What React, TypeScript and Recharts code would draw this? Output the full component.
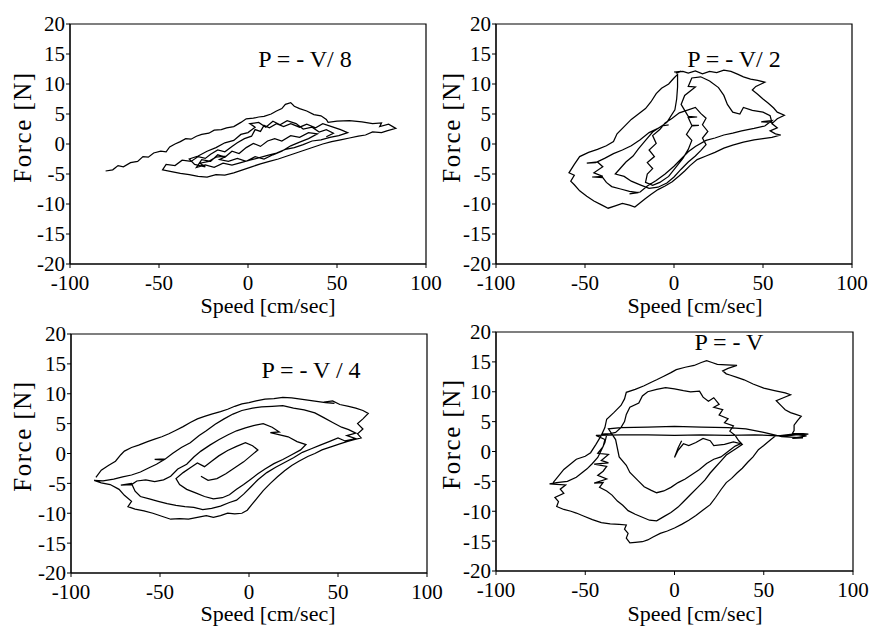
import React from "react";
import { LineChart, Line, XAxis, YAxis } from "recharts";

type Pt = [number, number];

const speedTicks = [-100, -50, 0, 50, 100];
const forceTicks = [-20, -15, -10, -5, 0, 5, 10, 15, 20];

// P = -V/8 : speed [cm/sec], force [N]
const loopV8: Pt[] = [
  [-80, -4.5], [-76, -4.3], [-73, -3.6], [-70, -3.8], [-66, -3.1], [-62, -2.9], [-59, -2.1], [-56, -2.2], [-53, -1.5], [-49, -1.2], [-46, -1.3], [-44, -0.5], [-41, 0.0], [-38, 0.4], [-35, 0.9], [-32, 0.8], [-29, 1.3], [-26, 1.6], [-22, 1.8], [-19, 2.3], [-15, 2.4], [-12, 2.7], [-8, 2.9], [-4, 3.6], [-1, 4.2], [3, 4.3], [6, 4.5], [9, 4.6], [13, 5.0], [16, 5.5], [19, 5.9], [21, 6.6], [24, 6.9], [26, 6.3], [29, 5.9], [33, 5.5], [37, 4.9], [41, 4.7], [44, 4.1], [45, 3.6], [50, 3.8], [57, 3.9], [64, 3.7], [70, 3.4], [75, 3.5], [74, 2.9], [79, 3.3], [83, 2.6],
  [78, 2.2], [75, 1.9], [70, 2.0], [66, 1.5], [62, 1.3], [57, 1.0], [52, 0.7], [47, 0.4], [42, 0.0], [37, -0.5], [32, -1.0], [27, -1.5], [22, -2.0], [17, -2.5], [12, -2.9], [7, -3.3], [2, -3.8], [-3, -4.3], [-8, -4.8], [-13, -5.2], [-18, -5.1], [-23, -5.5], [-28, -5.4], [-33, -5.1], [-38, -4.9], [-43, -4.6], [-48, -4.3],
  [-46, -3.4], [-41, -3.6], [-37, -2.7], [-32, -2.9], [-28, -2.1], [-24, -2.4], [-21, -1.7], [-17, -1.0], [-13, -1.3], [-9, -0.4], [-6, 0.2], [-2, 0.9], [2, 1.3], [4, 2.4], [7, 2.1], [9, 3.1], [12, 2.7], [16, 3.4], [20, 2.9], [24, 3.4], [29, 2.8], [33, 3.3], [38, 2.7], [42, 3.4], [47, 2.9], [52, 2.4], [56, 1.9],
  [51, 1.4], [46, 1.1], [41, 0.7], [36, 0.5], [31, -0.1], [26, -0.6], [21, -0.9], [16, -1.5], [11, -1.9], [6, -2.3], [1, -2.7], [-4, -3.1], [-9, -3.5], [-14, -3.2], [-19, -3.9], [-24, -3.5], [-29, -3.9], [-26, -2.6],
  [-21, -2.9], [-17, -1.8], [-13, -2.2], [-9, -1.2], [-5, -1.6], [-1, -0.6], [3, 0.1], [7, -0.4], [11, 0.5], [15, 0.9], [19, 0.5], [24, 1.4], [29, 1.1], [34, 1.9], [39, 1.7], [34, 0.9], [29, 0.3], [24, -0.3], [19, -1.2], [14, -1.8], [9, -2.5], [4, -2.1], [-1, -2.9], [-6, -2.4], [-11, -2.9],
  [-16, -2.6], [-12, -2.0], [-18, -2.2], [-22, -2.9], [-27, -3.2], [-24, -3.8], [-30, -3.4], [-33, -2.5], [-28, -2.0], [-23, -1.2], [-18, -0.6], [-13, 0.2], [-8, 0.6], [-4, 1.6], [0, 1.9], [4, 2.8], [1, 3.4], [6, 3.6], [10, 2.8], [14, 3.8], [18, 3.2], [22, 3.9], [27, 3.4], [31, 2.5], [36, 2.8], [40, 2.0], [44, 2.4], [48, 1.8], [44, 1.2],
];

// P = -V/2
const loopV2: Pt[] = [
  [1, 11.8], [4, 12.1], [0, 12.0], [5, 12.1], [8, 11.8], [12, 12.2], [16, 11.7], [20, 12.1], [24, 11.9], [28, 12.3], [32, 12.1], [36, 11.6], [39, 11.2], [43, 10.8], [47, 10.6], [51, 10.3], [46, 9.6], [44, 9.0], [47, 8.3], [50, 7.5], [53, 6.8], [56, 6.0], [58, 5.3], [62, 4.8], [58, 4.2], [55, 3.4], [58, 2.7], [54, 2.2], [57, 1.7], [60, 1.5],
  [55, 1.1], [50, 0.9], [45, 0.7], [39, 0.3], [33, -0.2], [28, -0.7], [23, -1.4], [18, -2.0], [13, -2.6], [9, -3.6], [6, -4.5], [3, -5.3], [-1, -6.3], [-5, -7.0], [-9, -7.6], [-13, -8.4], [-16, -9.1], [-19, -9.8], [-22, -10.5], [-25, -10.2], [-29, -9.9], [-33, -10.3], [-37, -10.7], [-41, -10.1], [-45, -9.5], [-49, -8.7], [-53, -7.8], [-56, -6.8], [-58, -6.2], [-56, -5.2], [-59, -4.8], [-56, -3.4], [-53, -2.1], [-48, -1.4], [-43, -0.9], [-38, -0.3], [-34, 0.4], [-32, 1.7], [-28, 2.9], [-24, 4.1], [-20, 5.0], [-16, 5.9], [-13, 7.0], [-10, 8.4], [-7, 9.3], [-3, 10.0], [0, 11.0], [2, 11.6],
  [2, 9.5], [1.5, 7.5], [0.5, 5.7],
  [-4, 3.6], [-9, 2.6], [-14, 1.9], [-19, 0.7], [-24, -0.3], [-29, -1.0], [-34, -1.6], [-39, -2.4], [-44, -3.1], [-49, -3.2], [-43, -3.0], [-40, -3.8], [-45, -4.8], [-40, -5.4], [-46, -5.5], [-40, -5.6], [-38, -6.4], [-35, -7.1], [-30, -7.5], [-25, -7.9], [-20, -8.1], [-25, -8.3], [-19, -8.0], [-15, -7.0], [-10, -6.1], [-5, -5.0], [0, -3.7], [4, -2.5], [8, -1.3], [12, -0.4], [18, 0.6], [23, 1.0], [28, 1.5], [33, 1.8], [38, 2.2], [45, 2.6], [51, 3.0], [55, 3.9], [49, 3.7], [55, 3.6], [54, 4.7], [50, 5.3], [44, 5.6], [39, 6.1], [37, 5.0], [33, 5.3], [30, 6.6], [28, 8.1], [25, 9.4], [20, 10.5], [15, 11.2], [10, 11.0], [8, 9.6], [12, 9.5], [6, 8.1], [4, 6.6],
  [8, 4.6], [13, 4.5], [8, 4.4], [10, 3.1], [14, 3.1], [10, 3.0], [7, 1.6], [10, 0.6], [8, -0.9], [5, -2.4], [1, -3.9], [-3, -5.4], [-8, -6.4], [-12, -6.9], [-16, -6.4], [-15, -5.0], [-12, -4.1], [-15, -3.1], [-11, -2.1], [-14, -1.0], [-10, 0.1], [-12, 1.4], [-8, 2.4], [-5, 3.5], [-1, 4.3], [3, 5.2], [8, 5.7], [12, 6.1], [15, 5.1], [18, 4.3], [16, 3.2], [19, 2.1], [16, 1.0], [18, -0.1], [15, -1.1], [12, -2.0],
  [8, -3.0], [4, -4.2], [0, -5.5], [-4, -6.5], [-9, -7.2], [-14, -7.4], [-19, -6.8], [-24, -6.2], [-28, -5.4], [-33, -5.0], [-30, -4.0], [-27, -3.0], [-23, -2.0], [-20, -0.8], [-16, 0.6], [-12, 2.0], [-7, 3.0], [-3, 3.2],
];

// P = -V/4
const loopV4: Pt[] = [
  [-86, -4.0], [-83, -2.8], [-79, -2.0], [-75, -1.3], [-72, -0.2], [-70, 0.4], [-66, 1.0], [-62, 1.4], [-57, 2.0], [-53, 2.4], [-49, 2.8], [-45, 3.3], [-41, 3.9], [-37, 4.5], [-33, 5.2], [-29, 5.8], [-25, 6.2], [-21, 6.6], [-16, 7.0], [-12, 7.4], [-8, 7.9], [-4, 8.3], [0, 8.5], [4, 8.8], [9, 9.1], [14, 9.2], [19, 9.4], [24, 9.3], [29, 9.1], [34, 8.9], [39, 8.7], [43, 8.5], [48, 8.4], [42, 8.6], [47, 8.8], [51, 8.2], [56, 7.9], [60, 7.6], [64, 7.2], [67, 6.7], [64, 5.8], [61, 5.0], [64, 4.1], [61, 3.3], [63, 2.6],
  [59, 2.3], [55, 2.0], [51, 1.6], [46, 1.1], [41, 0.6], [37, 0.0], [33, -0.5], [28, -1.3], [24, -2.0], [20, -2.9], [16, -3.9], [12, -5.0], [8, -6.2], [5, -7.3], [2, -8.4], [-1, -9.5], [-4, -10.0], [-8, -10.1], [-12, -10.0], [-16, -10.4], [-20, -10.7], [-24, -10.4], [-29, -10.7], [-34, -11.0], [-39, -10.9], [-44, -11.0], [-49, -10.5], [-54, -10.0], [-59, -9.6], [-64, -9.3], [-68, -8.9], [-66, -8.0], [-70, -7.0], [-73, -6.0], [-78, -5.2], [-83, -4.9], [-87, -4.5],
  [-82, -4.6], [-76, -4.3], [-71, -3.9], [-66, -3.6], [-61, -3.1], [-57, -2.5], [-52, -1.8], [-48, -1.1], [-53, -1.0], [-47, -0.9], [-43, 0.0], [-38, 1.0], [-33, 1.8], [-28, 3.0], [-24, 3.8], [-19, 4.9], [-14, 5.8], [-9, 6.6], [-4, 7.2], [2, 7.6], [7, 7.8], [13, 7.9], [19, 8.0], [25, 7.6], [31, 7.3], [37, 6.8], [42, 6.0], [47, 5.2], [52, 4.4], [56, 4.0], [60, 3.4], [55, 3.0], [60, 2.5], [54, 2.1], [50, 2.6], [45, 2.0], [40, 1.4], [35, 0.8], [30, 0.2], [25, -0.7], [20, -1.5], [15, -2.3], [10, -3.2], [5, -4.4], [1, -5.6], [-3, -6.8], [-7, -7.8], [-11, -8.2], [-16, -8.8], [-21, -9.2], [-26, -9.4], [-31, -9.0], [-36, -8.9], [-41, -8.7], [-46, -8.4], [-51, -8.0], [-56, -7.6], [-61, -7.2], [-64, -6.3], [-66, -5.0], [-72, -5.3], [-66, -5.2], [-63, -4.6],
  [-58, -4.4], [-53, -4.7], [-48, -4.4], [-44, -3.8], [-40, -2.6], [-35, -1.8], [-31, -0.6], [-27, 0.4], [-22, 1.4], [-17, 2.3], [-12, 3.1], [-7, 3.8], [-2, 4.3], [3, 4.7], [8, 5.0], [13, 4.4], [17, 3.6], [12, 3.5], [22, 2.8], [27, 2.0], [32, 1.5], [29, 0.6], [24, -0.2], [19, -1.0], [14, -1.7], [9, -2.6], [5, -3.4], [1, -4.3], [-3, -5.2], [-7, -6.0], [-11, -6.9], [-15, -7.4], [-20, -7.6], [-25, -7.2], [-30, -6.6], [-35, -6.0], [-39, -5.2], [-41, -4.2],
  [-37, -3.2], [-33, -2.4], [-29, -1.6], [-25, -2.2], [-21, -1.3], [-17, -0.4], [-12, 0.5], [-7, 1.2], [-2, 1.8], [2, 1.3], [5, 0.6], [1, -0.4], [-3, -1.4], [-8, -2.4], [-13, -3.4], [-18, -4.2], [-23, -4.5], [-27, -3.8],
];

// P = -V
const loopV1: Pt[] = [
  [-68, -5.2], [-62, -3.0], [-55, -1.3], [-50, -0.8], [-47, -0.2], [-44, 1.2], [-41, 2.7], [-39, 4.0], [-38, 5.4], [-34, 6.5], [-30, 7.7], [-28, 8.8], [-27, 9.9], [-22, 10.4], [-17, 11.0], [-13, 11.6], [-10, 12.0], [-6, 12.6], [-2, 13.2], [1, 13.7], [6, 14.1], [11, 14.4], [15, 14.9], [18, 15.2], [21, 14.9], [24, 14.6], [29, 14.5], [35, 14.4], [30, 13.9], [27, 13.5], [29, 13.0], [31, 12.8], [35, 12.4], [39, 12.0], [44, 11.3], [50, 10.6], [56, 10.2], [62, 9.8], [65, 9.5], [61, 9.0], [57, 8.5], [60, 7.6], [62, 7.0], [65, 6.5], [68, 6.2], [71, 5.9], [69, 5.2], [67, 4.4], [67, 3.5], [66, 3.0], [72, 3.0], [75, 2.9],
  [68, 2.8], [63, 2.6], [57, 2.7], [54, 2.0], [50, 1.0], [47, 0.3], [44, -0.9], [41, -1.8], [38, -2.8], [35, -3.6], [32, -4.5], [29, -5.2], [26, -6.4], [23, -7.7], [20, -8.9], [16, -9.8], [12, -10.7], [8, -11.5], [4, -12.2], [0, -12.8], [-4, -13.3], [-8, -13.7], [-12, -14.3], [-15, -14.8], [-18, -15.1], [-22, -15.2], [-25, -15.3], [-27, -14.5], [-26, -13.7], [-28, -13.0], [-27, -12.3], [-31, -12.2], [-36, -12.1], [-41, -11.9], [-46, -11.4], [-51, -10.8], [-55, -10.3], [-58, -10.0], [-62, -9.7], [-66, -9.2], [-65, -8.4], [-67, -7.7], [-62, -7.0], [-64, -6.3], [-61, -5.6], [-66, -5.5], [-70, -5.4],
  [-66, -5.2], [-60, -5.0], [-55, -4.3], [-52, -3.6], [-49, -2.9], [-46, -2.0], [-43, -1.0], [-41, 0.2], [-39, 1.5], [-38, 2.8], [-41, 2.9], [-36, 3.0], [-33, 3.2], [-30, 4.0], [-28, 5.0], [-27, 6.2], [-25, 7.4], [-20, 8.1], [-18, 9.3], [-15, 10.0], [-10, 10.4], [-5, 10.7], [0, 10.5], [5, 10.2], [9, 10.0], [14, 10.1], [16, 9.1], [19, 8.4], [22, 9.0], [25, 7.9], [22, 7.4], [27, 7.0], [25, 6.1], [30, 5.5], [28, 4.8], [33, 4.3], [31, 3.4], [34, 2.7], [36, 1.8], [38, 1.2], [35, 0.6], [32, 0.0], [29, -0.6], [26, -1.6], [23, -2.6], [20, -3.6], [17, -4.8], [13, -6.0], [9, -7.2], [5, -8.4], [2, -9.3], [-2, -10.2], [-6, -10.9], [-10, -11.6], [-14, -11.5], [-18, -11.0], [-22, -10.5], [-26, -9.9], [-29, -9.0], [-32, -8.3], [-35, -7.3], [-38, -6.6], [-42, -6.0], [-40, -5.2], [-45, -5.3], [-38, -4.6], [-43, -4.0], [-40, -3.3],
  [-38, -2.5], [-45, -2.1], [-37, -1.9], [-41, -1.5], [-37, -0.5], [-43, -0.3], [-40, 0.8], [-39, 2.0], [-44, 2.7], [-30, 2.8], [-15, 2.8], [0, 2.7], [15, 2.8], [30, 2.7], [45, 2.8], [58, 2.6], [66, 2.9], [74, 2.6], [66, 2.2], [72, 2.3], [60, 2.5], [50, 3.2], [40, 3.8], [30, 4.0], [15, 4.1], [0, 4.2], [-15, 4.1], [-30, 4.0], [-37, 3.8],
  [-33, 2.0], [-31, -0.9], [-27, -2.3], [-25, -3.5], [-20, -5.0], [-17, -5.9], [-13, -6.5], [-10, -6.9], [-6, -6.6], [-2, -6.0], [2, -5.2], [6, -4.6], [10, -3.8], [14, -3.0], [18, -2.0], [22, -1.3], [26, -0.9], [30, 0.0], [34, 0.9], [37, 1.3], [33, 1.6], [28, 1.2], [22, 1.0], [20, 1.8], [16, 2.2], [12, 1.5], [8, 1.0], [5, 1.3], [2, 0.2], [0, -1.0], [2, 0.6], [4, 1.8],
];

const FONT = "'Liberation Serif', 'Times New Roman', Times, serif";

const X_MIN = -100;
const X_MAX = 100;
const Y_MIN = -20;
const Y_MAX = 20;

// top/right sides of the axes box, drawn through the chart scales
const frameRows = [
  { x: X_MIN, fy: Y_MIN }, { x: X_MAX, fy: Y_MIN }, { x: X_MAX, fy: Y_MAX }, { x: X_MIN, fy: Y_MAX }, { x: X_MIN, fy: Y_MIN },
];

interface PanelProps {
  data: Pt[];
  title: string;
  left: number;
  top: number;
  width: number;
  height: number;
  margin: { top: number; right: number; bottom: number; left: number };
  yAxisWidth: number;
  titleAt: [number, number];
  forceAt: [number, number];
  speedAt: [number, number];
}

function Caption({ x, y, size, children }: { x: number; y: number; size: number; children: React.ReactNode }) {
  // x = centre, y = baseline
  return (
    <div
      style={{
        position: "absolute",
        left: x,
        top: y - 0.84 * size,
        fontSize: size,
        lineHeight: `${size}px`,
        transform: "translateX(-50%)",
        whiteSpace: "nowrap",
        color: "#000",
      }}
    >
      {children}
    </div>
  );
}

function Panel(p: PanelProps) {
  const rows = p.data.map(([x, y]) => ({ x, y }));
  return (
    <>
      <div style={{ position: "absolute", left: p.left, top: p.top, fontSize: 21 }}>
        <LineChart width={p.width} height={p.height} data={rows} margin={p.margin}>
          <XAxis
            type="number"
            dataKey="x"
            domain={[X_MIN, X_MAX]}
            ticks={speedTicks}
            interval={0}
            stroke="#000"
            axisLine={{ stroke: "#000" }}
            tickLine={{ stroke: "#000" }}
            tickSize={4}
            tickMargin={7}
            height={30}
          />
          <YAxis
            type="number"
            domain={[Y_MIN, Y_MAX]}
            ticks={forceTicks}
            interval={0}
            stroke="#000"
            axisLine={{ stroke: "#000" }}
            tickLine={{ stroke: "#000" }}
            tickSize={4}
            tickMargin={1}
            width={p.yAxisWidth}
          />
          <Line data={frameRows} dataKey="fy" stroke="#000" strokeWidth={1.2} dot={false} isAnimationActive={false} />
          <Line dataKey="y" stroke="#000" strokeWidth={1.25} dot={false} isAnimationActive={false} />
        </LineChart>
      </div>
      <Caption x={p.titleAt[0]} y={p.titleAt[1]} size={24}>{p.title}</Caption>
      <Caption x={p.speedAt[0]} y={p.speedAt[1]} size={22}>Speed [cm/sec]</Caption>
      <div
        style={{
          position: "absolute",
          left: p.forceAt[0],
          top: p.forceAt[1],
          fontSize: 25,
          lineHeight: "25px",
          letterSpacing: 1.5,
          whiteSpace: "nowrap",
          transform: "translate(-50%, -50%) rotate(-90deg)",
          color: "#000",
        }}
      >
        Force [N]
      </div>
    </>
  );
}

export default function App() {
  return (
    <div
      style={{
        position: "absolute",
        left: 0,
        top: 0,
        width: 886,
        height: 626,
        background: "#fff",
        fontFamily: FONT,
      }}
    >
      <Panel
        data={loopV8}
        title="P = - V/ 8"
        left={0}
        top={0}
        width={443}
        height={309}
        margin={{ top: 24, right: 17, bottom: 15, left: 0 }}
        yAxisWidth={70}
        titleAt={[305, 67]}
        forceAt={[22, 127]}
        speedAt={[268, 313]}
      />
      <Panel
        data={loopV2}
        title="P = - V/ 2"
        left={443}
        top={0}
        width={443}
        height={309}
        margin={{ top: 24, right: 34, bottom: 15, left: 0 }}
        yAxisWidth={53}
        titleAt={[734, 67]}
        forceAt={[451, 127]}
        speedAt={[695, 313]}
      />
      <Panel
        data={loopV4}
        title="P = - V / 4"
        left={0}
        top={309}
        width={443}
        height={317}
        margin={{ top: 25, right: 16, bottom: 23, left: 0 }}
        yAxisWidth={71}
        titleAt={[311, 378]}
        forceAt={[22, 436]}
        speedAt={[268, 621]}
      />
      <Panel
        data={loopV1}
        title="P = - V"
        left={443}
        top={309}
        width={443}
        height={317}
        margin={{ top: 23, right: 33, bottom: 25, left: 0 }}
        yAxisWidth={53}
        titleAt={[729, 350]}
        forceAt={[451, 434]}
        speedAt={[695, 621]}
      />
    </div>
  );
}
